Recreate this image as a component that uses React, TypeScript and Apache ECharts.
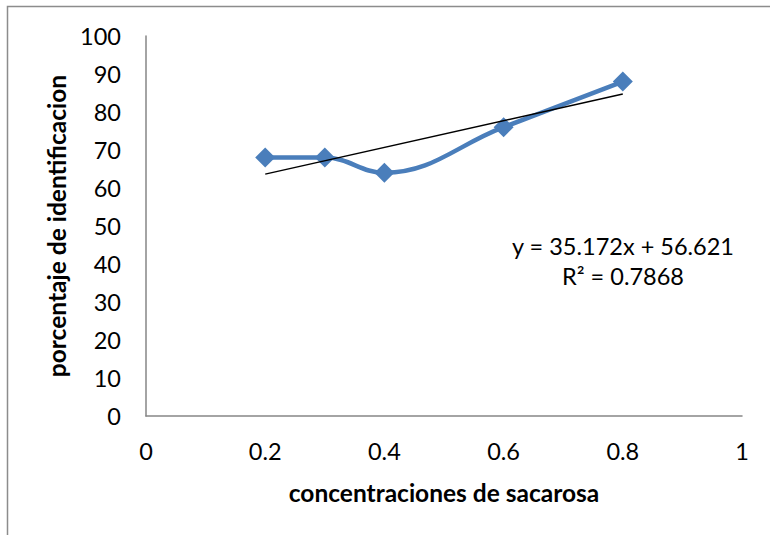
import React, { useEffect, useRef } from "react";
import * as echarts from "echarts";

// Measured points: sucrose concentration vs identification percentage
const concentrations = [0.2, 0.3, 0.4, 0.6, 0.8];
const identification = [68, 68, 64, 76, 88];

// Linear trendline reported on the chart
const slope = 35.172;
const intercept = 56.621;
const rSquared = 0.7868;

const xTicks = [0, 0.2, 0.4, 0.6, 0.8, 1];
const yTicks = [0, 10, 20, 30, 40, 50, 60, 70, 80, 90, 100];

const FONT = "Lato, 'Open Sans', sans-serif";

export default function App() {
  const ref = useRef<HTMLDivElement>(null);

  useEffect(() => {
    document.body.style.margin = "0";
    if (!ref.current) return;
    const chart = echarts.init(ref.current, undefined, { renderer: "svg" });

    const xMin = Math.min(...concentrations);
    const xMax = Math.max(...concentrations);
    const trend = [
      [xMin, slope * xMin + intercept],
      [xMax, slope * xMax + intercept],
    ];

    chart.setOption({
      animation: false,
      backgroundColor: "#ffffff",
      grid: { left: 146, right: 28, top: 36, bottom: 119 },
      xAxis: {
        type: "value",
        min: xTicks[0],
        max: xTicks[xTicks.length - 1],
        interval: 0.2,
        name: "concentraciones de sacarosa",
        nameLocation: "middle",
        nameGap: 64,
        nameTextStyle: { fontFamily: FONT, fontSize: 24.5, fontWeight: "bold", color: "#000" },
        axisLine: { show: true, lineStyle: { color: "#868686", width: 1.5 } },
        axisTick: { show: false },
        splitLine: { show: false },
        axisLabel: {
          fontFamily: FONT,
          fontSize: 23.5,
          color: "#000",
          margin: 23,
          formatter: (v: number) => String(Number(v.toFixed(1))),
        },
      },
      yAxis: {
        type: "value",
        min: yTicks[0],
        max: yTicks[yTicks.length - 1],
        interval: 10,
        name: "porcentaje de identificacion",
        nameLocation: "middle",
        nameGap: 76,
        nameTextStyle: { fontFamily: FONT, fontSize: 24.5, fontWeight: "bold", color: "#000" },
        axisLine: { show: true, lineStyle: { color: "#868686", width: 1.5 } },
        axisTick: { show: false },
        splitLine: { show: false },
        axisLabel: { fontFamily: FONT, fontSize: 23.5, color: "#000", margin: 25 },
      },
      series: [
        {
          type: "line",
          data: concentrations.map((x, i) => [x, identification[i]]),
          smooth: 0.4,
          symbol: "diamond",
          symbolSize: 20,
          lineStyle: { color: "#4a7ebb", width: 4.5 },
          itemStyle: { color: "#4a7ebb" },
          z: 2,
        },
        {
          type: "line",
          data: trend,
          symbol: "none",
          lineStyle: { color: "#000", width: 1.5 },
          z: 3,
        },
      ],
      graphic: [
        {
          type: "rect",
          shape: { x: 7.5, y: 6.5, width: 800, height: 600 },
          style: { fill: "none", stroke: "#8c8c8c", lineWidth: 1.5 },
          silent: true,
        },
        {
          type: "text",
          x: 623,
          y: 246,
          style: {
            text: `y = ${slope}x + ${intercept}`,
            fontFamily: FONT,
            fontSize: 23.5,
            fill: "#000",
            textAlign: "center",
            textVerticalAlign: "middle",
          },
        },
        {
          type: "text",
          x: 623,
          y: 276,
          style: {
            text: `R² = ${rSquared}`,
            fontFamily: FONT,
            fontSize: 23.5,
            fill: "#000",
            textAlign: "center",
            textVerticalAlign: "middle",
          },
        },
      ],
    });

    return () => chart.dispose();
  }, []);

  return <div ref={ref} style={{ width: 770, height: 535 }} />;
}
